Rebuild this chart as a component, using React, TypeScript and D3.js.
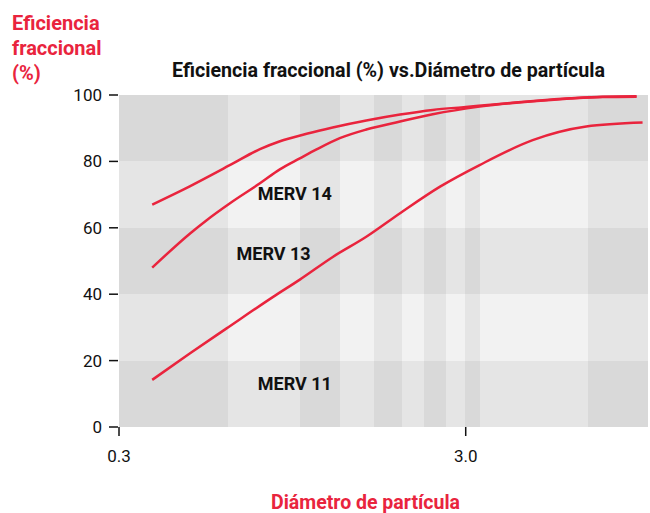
import React from "react";
import * as d3 from "d3";

const RED = "#e9243d";

const xTicks = [0.3, 3.0];
const xTickLabels = ["0.3", "3.0"];
const yTicks = [0, 20, 40, 60, 80, 100];

// vertical background bands (data units) and whether each is light
const vBandEdges = [0.3, 0.62, 1.0, 1.3, 1.63, 1.97, 2.27, 2.64, 2.98, 3.29, 6.75, 10.1];
const vBandLight = [false, true, false, true, false, true, false, true, false, true, false];
// horizontal bands
const hBandEdges = [0, 20, 40, 60, 80, 100];
const hBandLight = [false, true, false, true, false];

const merv14X = [0.374, 0.48, 0.63, 0.765, 0.87, 1.05, 1.24, 1.55, 1.94, 2.41, 3.0, 3.83, 4.81, 5.98, 7.45, 9.33];
const merv14Y = [67.0, 72.5, 79.0, 83.7, 86.0, 88.4, 90.2, 92.3, 94.1, 95.5, 96.4, 97.4, 98.3, 99.0, 99.5, 99.6];

const merv13X = [0.374, 0.481, 0.537, 0.627, 0.765, 0.873, 0.997, 1.114, 1.3, 1.55, 1.94, 2.41, 3.29, 4.81, 7.45, 9.33];
const merv13Y = [48.0, 58.3, 62.3, 67.4, 73.4, 77.6, 80.9, 83.6, 87.0, 89.6, 92.0, 94.2, 96.5, 98.2, 99.4, 99.5];

const merv11X = [0.374, 0.481, 0.613, 0.835, 0.997, 1.244, 1.55, 1.94, 2.53, 3.29, 4.68, 6.68, 9.71];
const merv11Y = [14.2, 22.2, 29.7, 39.2, 44.4, 51.3, 57.3, 64.4, 72.4, 78.9, 86.4, 90.5, 91.7];

const seriesNames = ["MERV 14", "MERV 13", "MERV 11"];
const labelPos = [
  { x: 0.754, y: 68.3 },
  { x: 0.655, y: 50.2 },
  { x: 0.754, y: 11.2 },
];

const W = 650;
const H = 513;

export default function App() {
  const x = d3.scaleLog().domain([0.3, 10]).range([119, 647]);
  const y = d3.scaleLinear().domain([0, 100]).range([427, 95]);

  const series = [
    merv14X.map((v, i) => [v, merv14Y[i]] as [number, number]),
    merv13X.map((v, i) => [v, merv13Y[i]] as [number, number]),
    merv11X.map((v, i) => [v, merv11Y[i]] as [number, number]),
  ];
  const line = d3
    .line<[number, number]>()
    .x((d) => x(d[0]))
    .y((d) => y(d[1]))
    .curve(d3.curveMonotoneX);

  const cells: React.ReactNode[] = [];
  for (let i = 0; i < vBandLight.length; i++) {
    for (let j = 0; j < hBandLight.length; j++) {
      const n = (vBandLight[i] ? 1 : 0) + (hBandLight[j] ? 1 : 0);
      const fill = n === 0 ? "#d9d9d9" : n === 1 ? "#e5e5e5" : "#f2f2f2";
      const x0 = x(vBandEdges[i]);
      const x1 = x(vBandEdges[i + 1]);
      const y0 = y(hBandEdges[j + 1]);
      const y1 = y(hBandEdges[j]);
      cells.push(
        <rect key={`c${i}-${j}`} x={x0} y={y0} width={x1 - x0} height={y1 - y0} fill={fill} />
      );
    }
  }

  return (
    <svg width={W} height={H} style={{ position: "absolute", left: 0, top: 0, fontFamily: "Roboto, sans-serif" }}>
      <rect width={W} height={H} fill="#fff" />
      <g shapeRendering="crispEdges">{cells}</g>

      {/* y axis title */}
      <g fill={RED} fontWeight={700} fontSize={20}>
        <text x={12} y={30}>Eficiencia</text>
        <text x={12} y={55}>fraccional</text>
        <text x={12} y={80}>(%)</text>
      </g>

      {/* title */}
      <text x={172} y={77} fontWeight={700} fontSize={19.5} fill="#111" textLength={433} lengthAdjust="spacingAndGlyphs">
        Eficiencia fraccional (%) vs.Diámetro de partícula
      </text>

      {/* y ticks */}
      {yTicks.map((t) => (
        <g key={`yt${t}`}>
          <line x1={109} x2={118} y1={y(t)} y2={y(t)} stroke="#111" strokeWidth={1.5} />
          <text x={102} y={y(t)} dy="0.35em" textAnchor="end" fontSize={17} fill="#111">
            {t}
          </text>
        </g>
      ))}

      {/* x ticks */}
      {xTicks.map((t, i) => (
        <g key={`xt${t}`}>
          <line x1={x(t)} x2={x(t)} y1={427} y2={436} stroke="#111" strokeWidth={1.5} />
          <text x={x(t)} y={462} textAnchor="middle" fontSize={17} fill="#111">
            {xTickLabels[i]}
          </text>
        </g>
      ))}

      {/* x axis title */}
      <text x={271} y={509} fontWeight={700} fontSize={20} fill={RED} textLength={189} lengthAdjust="spacingAndGlyphs">
        Diámetro de partícula
      </text>

      {/* lines */}
      {series.map((s, i) => (
        <path key={`l${i}`} d={line(s) || ""} fill="none" stroke={RED} strokeWidth={2.5} strokeLinecap="butt" />
      ))}

      {/* labels */}
      {seriesNames.map((n, i) => (
        <text key={`lab${i}`} x={x(labelPos[i].x)} y={y(labelPos[i].y)} fontWeight={700} fontSize={18} fill="#111">
          {n}
        </text>
      ))}
    </svg>
  );
}
